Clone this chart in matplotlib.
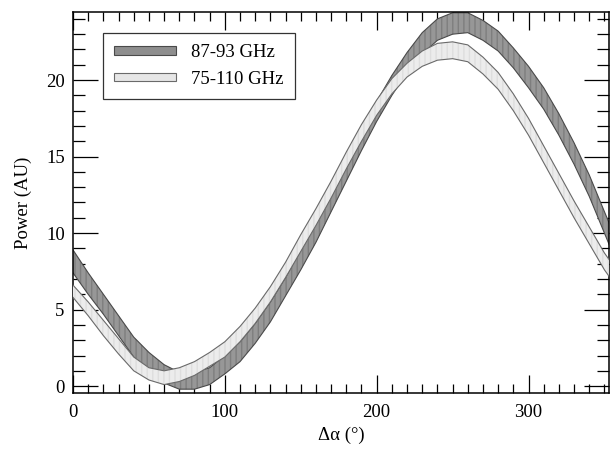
import matplotlib
matplotlib.use("Agg")
import matplotlib.pyplot as plt
from matplotlib.ticker import MultipleLocator
from matplotlib.patches import Patch

plt.rcParams['font.family'] = ['Liberation Serif', 'DejaVu Serif']
plt.rcParams['hatch.linewidth'] = 1.0

# Angle (degrees)
angle = [0, 10, 20, 30, 40, 50, 60, 70, 80, 90, 100, 110, 120, 130, 140, 150,
         160, 170, 180, 190, 200, 210, 220, 230, 240, 250, 260, 270, 280, 290,
         300, 310, 320, 330, 340, 350, 355]

# 87-93 GHz band (lower / upper envelope)
narrow_lo = [7.4, 6.0, 4.7, 3.3, 1.9, 0.9, 0.2, -0.2, -0.2, 0.1, 0.8, 1.6, 2.8, 4.2,
             5.9, 7.6, 9.4, 11.4, 13.4, 15.4, 17.3, 19.0, 20.5, 21.7, 22.6, 23.0,
             23.1, 22.6, 21.9, 20.8, 19.5, 18.1, 16.4, 14.5, 12.4, 10.0, 8.8]
narrow_hi = [8.9, 7.4, 6.0, 4.6, 3.2, 2.2, 1.4, 0.9, 0.9, 1.2, 2.0, 2.9, 4.1, 5.5,
             7.1, 8.9, 10.7, 12.7, 14.7, 16.7, 18.6, 20.3, 21.8, 23.1, 24.0, 24.4,
             24.4, 23.9, 23.2, 22.1, 20.9, 19.5, 17.8, 15.9, 13.8, 11.4, 10.2]

# 75-110 GHz band (lower / upper envelope)
wide_lo = [5.8, 4.6, 3.3, 2.1, 1.0, 0.4, 0.1, 0.3, 0.7, 1.3, 1.9, 2.9, 4.1, 5.5,
           7.1, 8.8, 10.5, 12.3, 14.2, 16.0, 17.7, 19.1, 20.2, 20.9, 21.3, 21.4,
           21.2, 20.4, 19.4, 18.0, 16.4, 14.6, 12.8, 11.0, 9.3, 7.6, 6.9]
wide_hi = [6.6, 5.5, 4.3, 3.1, 1.9, 1.2, 1.0, 1.2, 1.6, 2.2, 2.9, 3.9, 5.1, 6.5,
           8.1, 9.9, 11.6, 13.4, 15.3, 17.1, 18.7, 20.1, 21.1, 21.9, 22.4, 22.5,
           22.3, 21.5, 20.5, 19.1, 17.5, 15.7, 13.9, 12.1, 10.4, 8.7, 8.0]

labels = ["87-93 GHz", "75-110 GHz"]

dark_face, dark_hatch, dark_edge = '#979797', '#7e7e7e', '#4a4a4a'
light_face, light_hatch, light_edge = '#ececec', '#dedede', '#6a6a6a'

fig = plt.figure(figsize=(6.11, 4.51), dpi=100)
ax = fig.add_axes([0.1195, 0.1286, 0.8772, 0.8448])

ax.fill_between(angle, narrow_lo, narrow_hi, facecolor=dark_face,
                edgecolor=dark_hatch, linewidth=0, hatch='|||', zorder=2)
ax.plot(angle, narrow_lo, color=dark_edge, lw=0.8, zorder=2.1)
ax.plot(angle, narrow_hi, color=dark_edge, lw=0.8, zorder=2.1)

ax.fill_between(angle, wide_lo, wide_hi, facecolor=light_face,
                edgecolor=light_hatch, linewidth=0, hatch='|||', zorder=3)
ax.plot(angle, wide_lo, color=light_edge, lw=0.8, zorder=3.1)
ax.plot(angle, wide_hi, color=light_edge, lw=0.8, zorder=3.1)

ax.set_xlim(0, 353)
ax.set_ylim(-0.45, 24.45)

ax.xaxis.set_major_locator(MultipleLocator(100))
ax.xaxis.set_minor_locator(MultipleLocator(10))
ax.yaxis.set_major_locator(MultipleLocator(5))
ax.yaxis.set_minor_locator(MultipleLocator(1))

ax.tick_params(axis='both', which='both', direction='in', top=True, right=True,
               labelsize=13.5, colors='black', width=0.9)
ax.tick_params(axis='x', which='major', length=13, pad=8)
ax.tick_params(axis='x', which='minor', length=6.5)
ax.tick_params(axis='y', which='major', length=18, pad=6)
ax.tick_params(axis='y', which='minor', length=8.5)

for s in ax.spines.values():
    s.set_linewidth(1.1)

ax.set_xlabel('Δα (°)', fontsize=13.5, labelpad=4)
ax.set_ylabel('Power (AU)', fontsize=13.5, labelpad=10)

handles = [Patch(facecolor='#8e8e8e', edgecolor=dark_edge, linewidth=0.8),
           Patch(facecolor='#e6e6e6', edgecolor=light_edge, linewidth=0.8)]
leg = ax.legend(handles, labels, loc='upper left', bbox_to_anchor=(0.056, 0.945),
                borderaxespad=0, fontsize=13.5, frameon=True, fancybox=False,
                handlelength=3.3, handleheight=0.3, handletextpad=0.8,
                labelspacing=0.5, borderpad=0.6)
leg.get_frame().set_edgecolor('black')
leg.get_frame().set_linewidth(0.9)
leg.set_zorder(5)

fig.savefig('out.png', dpi=100)
